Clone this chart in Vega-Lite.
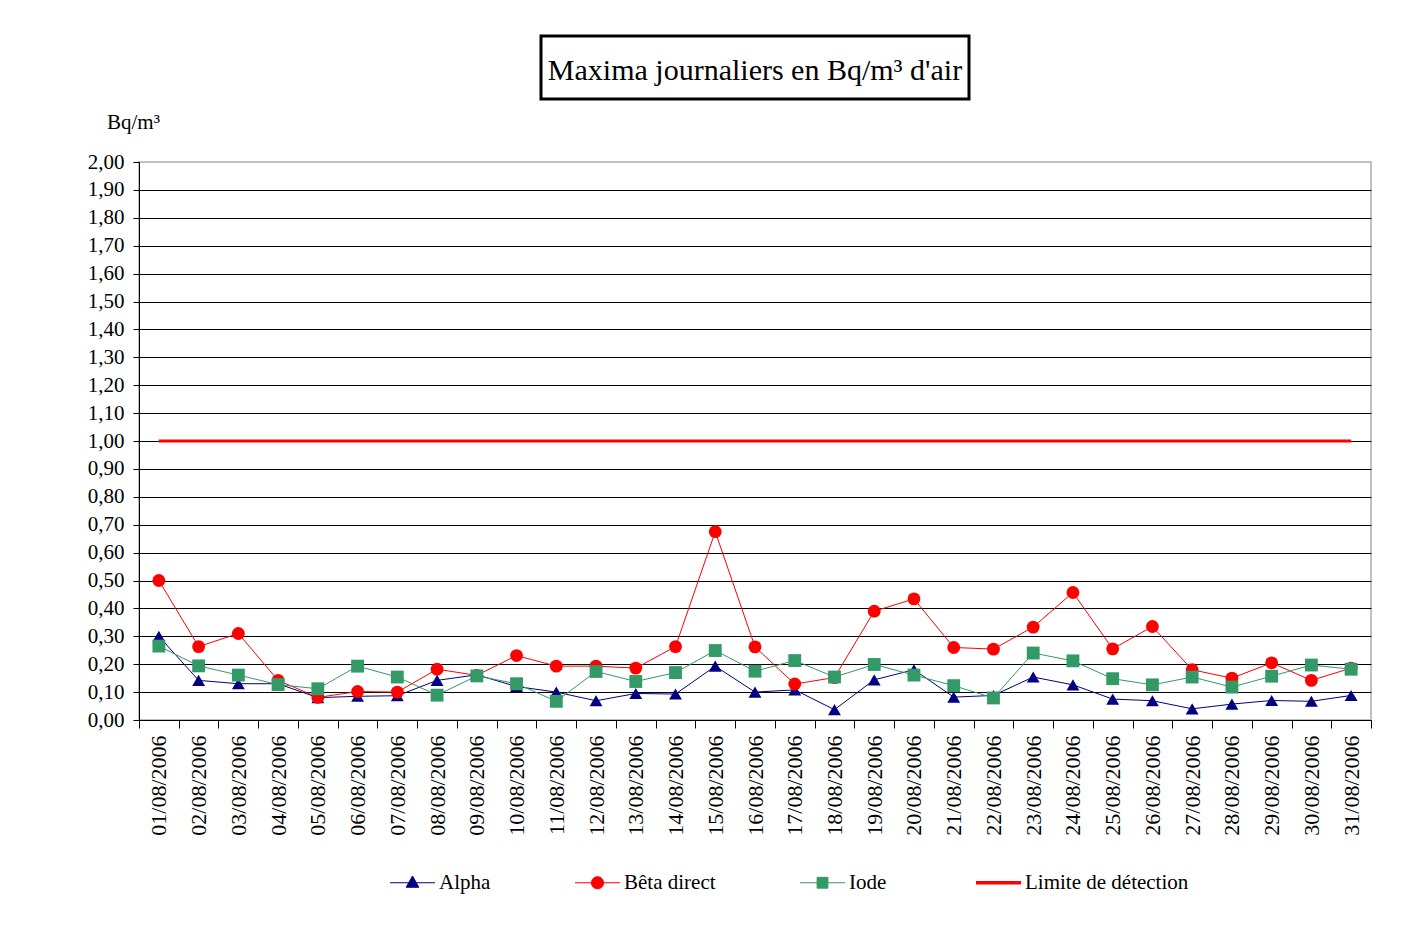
{
  "$schema": "https://vega.github.io/schema/vega-lite/v6.json",
  "background": "white",
  "padding": {"left": 86, "top": 34, "right": 40, "bottom": 20},
  "config": {"font": "Liberation Serif", "view": {"stroke": null}},
  "bounds": "flush",
  "center": true,
  "spacing": 63,
  "vconcat": [
    {
      "width": 428,
      "height": 63,
      "view": {"stroke": "black", "strokeWidth": 3},
      "data": {"values": [{"t": "Maxima journaliers en Bq/m³ d'air"}]},
      "mark": {"type": "text", "fontSize": 30, "font": "Liberation Serif", "color": "black", "align": "center", "baseline": "middle", "dy": 3},
      "encoding": {"text": {"field": "t", "type": "nominal"}}
    },
    {
      "width": 1232,
      "height": 558,
      "view": {"stroke": "#c0c0c0", "strokeWidth": 2},
      "data": {"values": [
        {"date": "01/08/2006", "Alpha": 0.30, "Bêta direct": 0.50, "Iode": 0.265, "Limite de détection": 1.0},
        {"date": "02/08/2006", "Alpha": 0.142, "Bêta direct": 0.263, "Iode": 0.194, "Limite de détection": 1.0},
        {"date": "03/08/2006", "Alpha": 0.13, "Bêta direct": 0.31, "Iode": 0.161, "Limite de détection": 1.0},
        {"date": "04/08/2006", "Alpha": 0.13, "Bêta direct": 0.142, "Iode": 0.127, "Limite de détection": 1.0},
        {"date": "05/08/2006", "Alpha": 0.08, "Bêta direct": 0.081, "Iode": 0.112, "Limite de détection": 1.0},
        {"date": "06/08/2006", "Alpha": 0.085, "Bêta direct": 0.102, "Iode": 0.193, "Limite de détection": 1.0},
        {"date": "07/08/2006", "Alpha": 0.087, "Bêta direct": 0.10, "Iode": 0.154, "Limite de détection": 1.0},
        {"date": "08/08/2006", "Alpha": 0.142, "Bêta direct": 0.182, "Iode": 0.089, "Limite de détection": 1.0},
        {"date": "09/08/2006", "Alpha": 0.162, "Bêta direct": 0.16, "Iode": 0.158, "Limite de détection": 1.0},
        {"date": "10/08/2006", "Alpha": 0.12, "Bêta direct": 0.231, "Iode": 0.13, "Limite de détection": 1.0},
        {"date": "11/08/2006", "Alpha": 0.10, "Bêta direct": 0.193, "Iode": 0.067, "Limite de détection": 1.0},
        {"date": "12/08/2006", "Alpha": 0.069, "Bêta direct": 0.193, "Iode": 0.174, "Limite de détection": 1.0},
        {"date": "13/08/2006", "Alpha": 0.095, "Bêta direct": 0.186, "Iode": 0.138, "Limite de détection": 1.0},
        {"date": "14/08/2006", "Alpha": 0.093, "Bêta direct": 0.263, "Iode": 0.17, "Limite de détection": 1.0},
        {"date": "15/08/2006", "Alpha": 0.193, "Bêta direct": 0.675, "Iode": 0.249, "Limite de détection": 1.0},
        {"date": "16/08/2006", "Alpha": 0.10, "Bêta direct": 0.262, "Iode": 0.175, "Limite de détection": 1.0},
        {"date": "17/08/2006", "Alpha": 0.108, "Bêta direct": 0.129, "Iode": 0.213, "Limite de détection": 1.0},
        {"date": "18/08/2006", "Alpha": 0.037, "Bêta direct": 0.152, "Iode": 0.154, "Limite de détection": 1.0},
        {"date": "19/08/2006", "Alpha": 0.144, "Bêta direct": 0.39, "Iode": 0.199, "Limite de détection": 1.0},
        {"date": "20/08/2006", "Alpha": 0.18, "Bêta direct": 0.434, "Iode": 0.161, "Limite de détection": 1.0},
        {"date": "21/08/2006", "Alpha": 0.082, "Bêta direct": 0.26, "Iode": 0.123, "Limite de détection": 1.0},
        {"date": "22/08/2006", "Alpha": 0.088, "Bêta direct": 0.254, "Iode": 0.079, "Limite de détection": 1.0},
        {"date": "23/08/2006", "Alpha": 0.154, "Bêta direct": 0.333, "Iode": 0.24, "Limite de détection": 1.0},
        {"date": "24/08/2006", "Alpha": 0.126, "Bêta direct": 0.457, "Iode": 0.212, "Limite de détection": 1.0},
        {"date": "25/08/2006", "Alpha": 0.075, "Bêta direct": 0.255, "Iode": 0.148, "Limite de détection": 1.0},
        {"date": "26/08/2006", "Alpha": 0.069, "Bêta direct": 0.335, "Iode": 0.126, "Limite de détection": 1.0},
        {"date": "27/08/2006", "Alpha": 0.04, "Bêta direct": 0.18, "Iode": 0.154, "Limite de détection": 1.0},
        {"date": "28/08/2006", "Alpha": 0.057, "Bêta direct": 0.15, "Iode": 0.118, "Limite de détection": 1.0},
        {"date": "29/08/2006", "Alpha": 0.07, "Bêta direct": 0.205, "Iode": 0.157, "Limite de détection": 1.0},
        {"date": "30/08/2006", "Alpha": 0.067, "Bêta direct": 0.142, "Iode": 0.197, "Limite de détection": 1.0},
        {"date": "31/08/2006", "Alpha": 0.088, "Bêta direct": 0.186, "Iode": 0.182, "Limite de détection": 1.0}
      ]},
      "transform": [{"fold": ["Alpha", "Bêta direct", "Iode", "Limite de détection"], "as": ["series", "value"]}],
      "encoding": {
        "x": {
          "field": "date", "type": "ordinal", "sort": null,
          "scale": {"type": "band", "paddingInner": 0, "paddingOuter": 0},
          "bandPosition": 0.5,
          "axis": {
            "title": null, "labelAngle": 270, "labelFontSize": 22, "labelColor": "black",
            "labelFont": "Liberation Serif", "tickBand": "extent", "tickSize": 8, "labelPadding": 7,
            "domainColor": "black", "tickColor": "black", "grid": false, "labelBound": false, "labelOverlap": false
          }
        },
        "y": {
          "field": "value", "type": "quantitative",
          "scale": {"domain": [0, 2], "nice": false, "zero": true},
          "axis": {
            "values": [0, 0.1, 0.2, 0.3, 0.4, 0.5, 0.6, 0.7, 0.8, 0.9, 1.0, 1.1, 1.2, 1.3, 1.4, 1.5, 1.6, 1.7, 1.8, 1.9, 2.0],
            "format": ".2f",
            "labelExpr": "replace(datum.label, '.', ',')",
            "labelFontSize": 21, "labelColor": "black", "labelFont": "Liberation Serif", "labelPadding": 9,
            "grid": true,
            "gridColor": {"condition": {"test": "datum.value >= 2", "value": "#c0c0c0"}, "value": "black"},
            "gridWidth": 1, "gridOpacity": 1,
            "domainColor": "black", "tickColor": "black", "tickSize": 6,
            "title": "Bq/m³", "titleAngle": 0, "titleFontSize": 21, "titleFontWeight": "normal",
            "titleFont": "Liberation Serif", "titleColor": "black",
            "titleAlign": "center", "titleBaseline": "alphabetic", "titleX": -6, "titleY": -34
          }
        },
        "color": {
          "field": "series", "type": "nominal",
          "scale": {"domain": ["Alpha", "Bêta direct", "Iode", "Limite de détection"], "range": ["#000080", "#ff0000", "#339966", "#ff0000"]},
          "legend": {
            "title": null, "orient": "none", "direction": "horizontal", "legendX": 263, "legendY": 836,
            "symbolSize": 2025, "labelFontSize": 21, "labelFont": "Liberation Serif", "labelColor": "black",
            "columnPadding": 82, "labelOffset": 16, "symbolOpacity": 1, "labelLimit": 400,
            "encode": {
              "symbols": {
                "update": {
                  "size": {"value": 2025},
                  "shape": {"signal": "datum.value == 'Alpha' ? 'M-1,0H1M0,-0.3L0.28,0.2H-0.28Z' : datum.value == 'Bêta direct' ? 'M-1,0H1M-0.27,0A0.27,0.27 0 1,0 0.27,0A0.27,0.27 0 1,0 -0.27,0Z' : datum.value == 'Iode' ? 'M-1,0H1M-0.24,-0.24H0.24V0.24H-0.24Z' : 'M-1,0H1'"},
                  "fill": {"signal": "scale('color', datum.value)"},
                  "stroke": {"signal": "scale('color', datum.value)"},
                  "strokeWidth": {"signal": "datum.value == 'Limite de détection' ? 3.5 : 1"},
                  "opacity": {"value": 1},
                  "fillOpacity": {"value": 1}
                }
              }
            }
          }
        }
      },
      "layer": [
        {
          "transform": [{"filter": "datum.series != 'Limite de détection'"}],
          "mark": {"type": "line", "strokeWidth": 1}
        },
        {
          "transform": [{"filter": "datum.series == 'Limite de détection'"}],
          "mark": {"type": "line", "strokeWidth": 3}
        },
        {
          "transform": [{"filter": "datum.series != 'Limite de détection'"}],
          "mark": {"type": "point", "filled": true, "opacity": 1, "size": 165},
          "encoding": {
            "shape": {
              "field": "series", "type": "nominal",
              "scale": {"domain": ["Alpha", "Bêta direct", "Iode"], "range": ["triangle-up", "circle", "square"]},
              "legend": null
            }
          }
        }
      ]
    }
  ]
}
